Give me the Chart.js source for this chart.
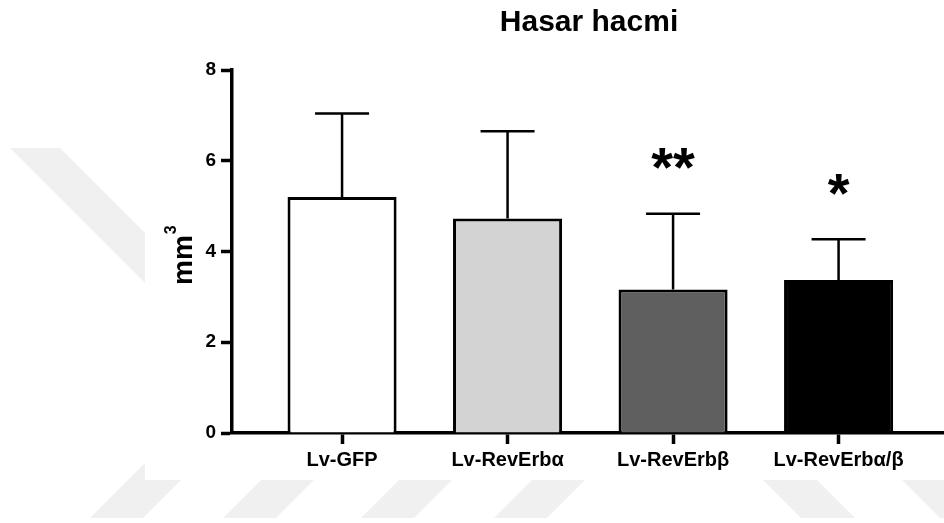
<!DOCTYPE html>
<html>
<head>
<meta charset="utf-8">
<script src="https://cdn.jsdelivr.net/npm/chart.js@4/dist/chart.umd.min.js"></script>
<style>
  html, body { margin: 0; padding: 0; background: #ffffff; }
  #wrap { width: 944px; height: 523px; }
</style>
</head>
<body>
<div id="wrap"><canvas id="chart" width="944" height="523"></canvas></div>
<script>
// Lesion volume per group (mean and SD, mm³)
const categories = ['Lv-GFP', 'Lv-RevErbα', 'Lv-RevErbβ', 'Lv-RevErbα/β'];
const means = [5.20, 4.73, 3.16, 3.37];
const sds = [1.84, 1.92, 1.67, 0.90];
const significance = ['', '', '**', '*'];
const yTicks = [0, 2, 4, 6, 8];
const barFills = ['#ffffff', '#d3d3d3', '#5f5f5f', '#000000'];

const FONT = '"Liberation Sans", Arial, Helvetica, sans-serif';

// Page background with faint diagonal bands and a white panel for the plot
const backdrop = {
  id: 'backdrop',
  beforeDraw(chart) {
    const ctx = chart.ctx;
    ctx.save();
    ctx.fillStyle = '#ffffff';
    ctx.fillRect(0, 0, chart.width, chart.height);
    ctx.fillStyle = '#f0f0f0';
    const poly = pts => {
      ctx.beginPath();
      ctx.moveTo(pts[0][0], pts[0][1]);
      for (let i = 1; i < pts.length; i++) ctx.lineTo(pts[i][0], pts[i][1]);
      ctx.closePath();
      ctx.fill();
    };
    poly([[10, 148], [60, 148], [300, 388], [250, 388]]);
    [90, 223, 361, 494].forEach(a => poly([[a, 518], [a + 53, 518], [a + 131, 440], [a + 78, 440]]));
    [801, 940].forEach(b => poly([[b, 518], [b + 54, 518], [b - 24, 440], [b - 78, 440]]));
    ctx.fillStyle = '#ffffff';
    ctx.fillRect(145, 0, chart.width - 145, 480);
    ctx.restore();
  }
};

// Upward SD whiskers, significance stars, title and y-axis unit
const annotations = {
  id: 'annotations',
  afterDatasetsDraw(chart) {
    const ctx = chart.ctx;
    const y = chart.scales.y;
    const meta = chart.getDatasetMeta(0);
    ctx.save();
    ctx.strokeStyle = '#000';
    ctx.lineWidth = 2.5;
    ctx.lineCap = 'butt';
    meta.data.forEach((bar, i) => {
      const top = y.getPixelForValue(means[i] + sds[i]);
      ctx.beginPath();
      ctx.moveTo(bar.x, bar.y);
      ctx.lineTo(bar.x, top);
      ctx.moveTo(bar.x - 27, top);
      ctx.lineTo(bar.x + 27, top);
      ctx.stroke();
      if (significance[i]) {
        ctx.font = 'bold 56px ' + FONT;
        ctx.fillStyle = '#000';
        ctx.textAlign = 'center';
        ctx.textBaseline = 'alphabetic';
        const m = ctx.measureText(significance[i]);
        const inkMid = (m.actualBoundingBoxAscent - m.actualBoundingBoxDescent) / 2;
        ctx.fillText(significance[i], bar.x, top - 55 + inkMid);
      }
    });
    ctx.restore();
  },
  afterDraw(chart) {
    const ctx = chart.ctx;
    ctx.save();
    ctx.fillStyle = '#000';
    ctx.textAlign = 'center';
    ctx.textBaseline = 'alphabetic';
    ctx.font = 'bold 30px ' + FONT;
    ctx.fillText('Hasar hacmi', 589, 31);

    ctx.translate(185, 254);
    ctx.rotate(-Math.PI / 2);
    ctx.textAlign = 'left';
    ctx.font = 'bold 28px ' + FONT;
    const w = ctx.measureText('mm').width;
    ctx.fillText('mm', -31, 7);
    ctx.font = 'bold 16px ' + FONT;
    ctx.fillText('3', -31 + w + 1, -9);
    ctx.restore();
  }
};

new Chart(document.getElementById('chart'), {
  type: 'bar',
  data: {
    datasets: [{
      data: means.map((v, i) => ({ x: i + 1, y: v })),
      backgroundColor: barFills,
      borderColor: '#000',
      borderWidth: 3,
      borderSkipped: 'start',
      barPercentage: 0.659,
      categoryPercentage: 1
    }]
  },
  options: {
    responsive: false,
    devicePixelRatio: 1,
    animation: false,
    layout: { padding: { top: 70, left: 0, right: 0, bottom: 0 } },
    plugins: { legend: { display: false }, tooltip: { enabled: false }, title: { display: false } },
    scales: {
      x: {
        type: 'linear',
        min: 0.335,
        max: 4.637,
        offset: false,
        z: 1,
        afterFit: s => { s.height = 90; },
        afterBuildTicks: s => { s.ticks = categories.map((_, i) => ({ value: i + 1 })); },
        grid: { display: true, offset: false, drawOnChartArea: false, drawTicks: true, tickLength: 11, tickWidth: 3.5, tickColor: '#000' },
        border: { display: true, color: '#000', width: 3.5 },
        ticks: {
          autoSkip: false,
          maxRotation: 0,
          padding: 4,
          color: '#000',
          font: { family: FONT, size: 20, weight: 'bold' },
          callback: v => categories[Math.round(v) - 1] || ''
        }
      },
      y: {
        min: 0,
        max: 8,
        z: 1,
        afterFit: s => { s.width = 232; },
        afterBuildTicks: s => { s.ticks = yTicks.map(v => ({ value: v })); },
        grid: { display: true, drawOnChartArea: false, drawTicks: true, tickLength: 11, tickWidth: 3.5, tickColor: '#000' },
        border: { display: true, color: '#000', width: 3.5 },
        ticks: {
          padding: 5,
          color: '#000',
          font: { family: FONT, size: 19, weight: 'bold' }
        }
      }
    }
  },
  plugins: [backdrop, annotations]
});
</script>
</body>
</html>
